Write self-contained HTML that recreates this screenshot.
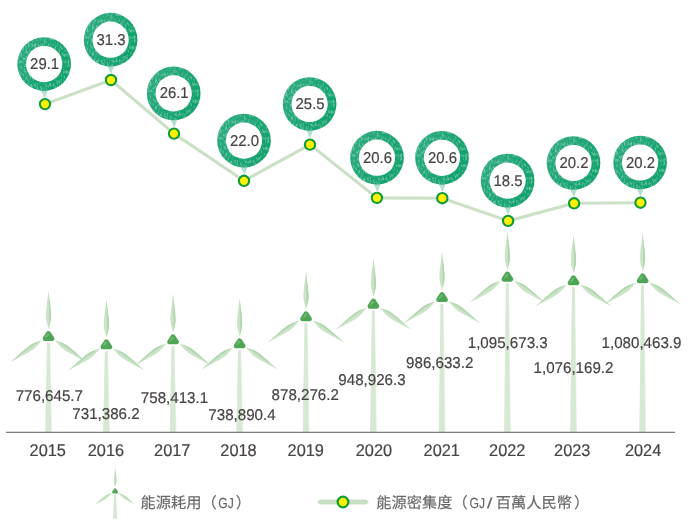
<!DOCTYPE html>
<html lang="zh-Hant">
<head>
<meta charset="utf-8">
<title>能源耗用與能源密集度</title>
<style>
html,body{margin:0;padding:0;background:#fff;}
body{width:690px;height:526px;overflow:hidden;font-family:"Liberation Sans","Noto Sans CJK TC",sans-serif;}
svg{display:block;}
svg text{font-family:"Liberation Sans","Noto Sans CJK TC",sans-serif;text-rendering:geometricPrecision;}
</style>
</head>
<body>
<svg width="690" height="526" viewBox="0 0 690 526">
<defs>
<g id="blade">
<path d="M0,0 C-0.6,-3.6 -2.6,-8.5 -2.6,-13 C-2.6,-20 -0.6,-32 0,-38.8 C0.6,-32 2.6,-20 2.6,-13 C2.6,-8.5 0.6,-3.6 0,0 Z" fill="#cbe4c8"/>
<path d="M0.4,-1 C0.9,-3.6 2.6,-8.5 2.6,-13 C2.6,-20 0.6,-32 0,-38.8 C0.3,-28 0.9,-13 0.4,-1 Z" fill="#b1d7ae"/>
</g>
<g id="rotor">
<use href="#blade" transform="translate(0,-0.9)"/>
<use href="#blade" transform="translate(-6.2,9.6) rotate(-125)"/>
<use href="#blade" transform="translate(6.2,9.6) rotate(125) scale(-1,1)"/>
<path d="M0,3.2 L3.3,8.2 L-3.3,8.2 Z" fill="#4ea556" stroke="#4ea556" stroke-width="5" stroke-linejoin="round"/>
<path d="M-0.6,2.6 C1.5,3.4 1.6,5.4 -3.4,8 C-3.4,6.4 -1.8,3.4 -0.6,2.6 Z" fill="#6db870"/>
</g>
<linearGradient id="rg" x1="0" y1="0.2" x2="1" y2="0.8">
<stop offset="0" stop-color="#2cab7e"/><stop offset="0.5" stop-color="#1ba573"/><stop offset="1" stop-color="#0ea06a"/>
</linearGradient>
<filter id="tex" x="0" y="0" width="1" height="1" color-interpolation-filters="sRGB">
<feTurbulence type="fractalNoise" baseFrequency="0.55 0.3" numOctaves="2" seed="7" result="n"/>
<feColorMatrix in="n" type="matrix" values="0 0 0 0 1  0 0 0 0 1  0 0 0 0 1  0 0 0 1.1 -0.5" result="w"/>
<feComposite in="w" in2="SourceGraphic" operator="in" result="wc"/>
<feMerge><feMergeNode in="SourceGraphic"/><feMergeNode in="wc"/></feMerge>
</filter>
<g id="badge">
<path d="M-3.7,25.5 L3.9,25.5 L0.5,34.2 Z" fill="#b2dfce"/>
<circle cx="0" cy="0" r="26.85" fill="url(#rg)" filter="url(#tex)"/>
<circle cx="0" cy="0" r="18.1" fill="#fff"/>
</g>
<g id="dot"><circle r="5.15" fill="#fff100" stroke="#0f9a3c" stroke-width="2.1"/></g>
</defs>
<rect width="690" height="526" fill="#fff"/>

<g id="towers">
<path d="M47.05,342.9 L50.05,342.9 L52.00,432 L45.30,432 Z" fill="#e8f2e6"/>
<path d="M47.05,342.9 L49.65,342.9 L51.30,432 L45.30,432 Z" fill="#d7e9d4"/>
<path d="M104.95,351.1 L107.95,351.1 L109.90,432 L103.20,432 Z" fill="#e8f2e6"/>
<path d="M104.95,351.1 L107.55,351.1 L109.20,432 L103.20,432 Z" fill="#d7e9d4"/>
<path d="M171.55,346.1 L174.55,346.1 L176.50,432 L169.80,432 Z" fill="#e8f2e6"/>
<path d="M171.55,346.1 L174.15,346.1 L175.80,432 L169.80,432 Z" fill="#d7e9d4"/>
<path d="M238.15,350.1 L241.15,350.1 L243.10,432 L236.40,432 Z" fill="#e8f2e6"/>
<path d="M238.15,350.1 L240.75,350.1 L242.40,432 L236.40,432 Z" fill="#d7e9d4"/>
<path d="M304.55,323.1 L307.55,323.1 L309.50,432 L302.80,432 Z" fill="#e8f2e6"/>
<path d="M304.55,323.1 L307.15,323.1 L308.80,432 L302.80,432 Z" fill="#d7e9d4"/>
<path d="M371.95,310.5 L374.95,310.5 L376.90,432 L370.20,432 Z" fill="#e8f2e6"/>
<path d="M371.95,310.5 L374.55,310.5 L376.20,432 L370.20,432 Z" fill="#d7e9d4"/>
<path d="M440.55,303.9 L443.55,303.9 L445.50,432 L438.80,432 Z" fill="#e8f2e6"/>
<path d="M440.55,303.9 L443.15,303.9 L444.80,432 L438.80,432 Z" fill="#d7e9d4"/>
<path d="M505.95,283.5 L508.95,283.5 L510.90,432 L504.20,432 Z" fill="#e8f2e6"/>
<path d="M505.95,283.5 L508.55,283.5 L510.20,432 L504.20,432 Z" fill="#d7e9d4"/>
<path d="M572.05,287.1 L575.05,287.1 L577.00,432 L570.30,432 Z" fill="#e8f2e6"/>
<path d="M572.05,287.1 L574.65,287.1 L576.30,432 L570.30,432 Z" fill="#d7e9d4"/>
<path d="M641.15,285.1 L644.15,285.1 L646.10,432 L639.40,432 Z" fill="#e8f2e6"/>
<path d="M641.15,285.1 L643.75,285.1 L645.40,432 L639.40,432 Z" fill="#d7e9d4"/>
</g>
<g id="rotors">
<use href="#rotor" transform="translate(48.5,330.4)"/>
<use href="#rotor" transform="translate(106.4,338.6)"/>
<use href="#rotor" transform="translate(173.0,333.6)"/>
<use href="#rotor" transform="translate(239.6,337.6)"/>
<use href="#rotor" transform="translate(306.0,310.6)"/>
<use href="#rotor" transform="translate(373.4,298.0)"/>
<use href="#rotor" transform="translate(442.0,291.4)"/>
<use href="#rotor" transform="translate(507.4,271.0)"/>
<use href="#rotor" transform="translate(573.5,274.6)"/>
<use href="#rotor" transform="translate(642.6,272.6)"/>
</g>
<rect x="6" y="431.75" width="669" height="1.2" fill="#767676"/>
<polyline points="45.0,104.1 111.0,80.0 174.0,133.6 244.0,180.8 310.0,144.6 376.9,197.9 442.3,198.2 508.1,220.9 574.1,203.3 640.5,202.7" fill="none" stroke="#cbe0c6" stroke-width="3.1" stroke-linejoin="round"/>
<use href="#badge" transform="translate(44.15,64.05)"/>
<use href="#badge" transform="translate(110.60,39.70)"/>
<use href="#badge" transform="translate(173.70,93.40)"/>
<use href="#badge" transform="translate(244.00,140.60)"/>
<use href="#badge" transform="translate(309.60,104.00)"/>
<use href="#badge" transform="translate(377.00,157.70)"/>
<use href="#badge" transform="translate(442.00,157.80)"/>
<use href="#badge" transform="translate(507.60,180.60)"/>
<use href="#badge" transform="translate(573.50,163.00)"/>
<use href="#badge" transform="translate(640.10,162.50)"/>
<use href="#dot" transform="translate(45.0,104.1)"/>
<use href="#dot" transform="translate(111.0,80.0)"/>
<use href="#dot" transform="translate(174.0,133.6)"/>
<use href="#dot" transform="translate(244.0,180.8)"/>
<use href="#dot" transform="translate(310.0,144.6)"/>
<use href="#dot" transform="translate(376.9,197.9)"/>
<use href="#dot" transform="translate(442.3,198.2)"/>
<use href="#dot" transform="translate(508.1,220.9)"/>
<use href="#dot" transform="translate(574.1,203.3)"/>
<use href="#dot" transform="translate(640.5,202.7)"/>
<text transform="translate(44.60,69.05) scale(0.955,1)" font-size="15.6" fill="#474443" stroke="#474443" stroke-width="0.2" text-anchor="middle">29.1</text>
<text transform="translate(111.05,44.70) scale(0.955,1)" font-size="15.6" fill="#474443" stroke="#474443" stroke-width="0.2" text-anchor="middle">31.3</text>
<text transform="translate(174.15,98.40) scale(0.955,1)" font-size="15.6" fill="#474443" stroke="#474443" stroke-width="0.2" text-anchor="middle">26.1</text>
<text transform="translate(244.45,145.60) scale(0.955,1)" font-size="15.6" fill="#474443" stroke="#474443" stroke-width="0.2" text-anchor="middle">22.0</text>
<text transform="translate(310.05,109.00) scale(0.955,1)" font-size="15.6" fill="#474443" stroke="#474443" stroke-width="0.2" text-anchor="middle">25.5</text>
<text transform="translate(377.45,162.70) scale(0.955,1)" font-size="15.6" fill="#474443" stroke="#474443" stroke-width="0.2" text-anchor="middle">20.6</text>
<text transform="translate(442.45,162.80) scale(0.955,1)" font-size="15.6" fill="#474443" stroke="#474443" stroke-width="0.2" text-anchor="middle">20.6</text>
<text transform="translate(508.05,185.60) scale(0.955,1)" font-size="15.6" fill="#474443" stroke="#474443" stroke-width="0.2" text-anchor="middle">18.5</text>
<text transform="translate(573.95,168.00) scale(0.955,1)" font-size="15.6" fill="#474443" stroke="#474443" stroke-width="0.2" text-anchor="middle">20.2</text>
<text transform="translate(640.55,167.50) scale(0.955,1)" font-size="15.6" fill="#474443" stroke="#474443" stroke-width="0.2" text-anchor="middle">20.2</text>
<text transform="translate(49.30,400.50) scale(0.97,1)" font-size="15.6" fill="#474443" stroke="#474443" stroke-width="0.2" text-anchor="middle">776,645.7</text>
<text transform="translate(106.00,419.30) scale(0.97,1)" font-size="15.6" fill="#474443" stroke="#474443" stroke-width="0.2" text-anchor="middle">731,386.2</text>
<text transform="translate(174.50,403.30) scale(0.97,1)" font-size="15.6" fill="#474443" stroke="#474443" stroke-width="0.2" text-anchor="middle">758,413.1</text>
<text transform="translate(242.00,419.90) scale(0.97,1)" font-size="15.6" fill="#474443" stroke="#474443" stroke-width="0.2" text-anchor="middle">738,890.4</text>
<text transform="translate(305.20,400.40) scale(0.97,1)" font-size="15.6" fill="#474443" stroke="#474443" stroke-width="0.2" text-anchor="middle">878,276.2</text>
<text transform="translate(372.00,384.70) scale(0.97,1)" font-size="15.6" fill="#474443" stroke="#474443" stroke-width="0.2" text-anchor="middle">948,926.3</text>
<text transform="translate(439.70,367.90) scale(0.97,1)" font-size="15.6" fill="#474443" stroke="#474443" stroke-width="0.2" text-anchor="middle">986,633.2</text>
<text transform="translate(507.70,347.60) scale(0.97,1)" font-size="15.6" fill="#474443" stroke="#474443" stroke-width="0.2" text-anchor="middle">1,095,673.3</text>
<text transform="translate(573.50,372.90) scale(0.97,1)" font-size="15.6" fill="#474443" stroke="#474443" stroke-width="0.2" text-anchor="middle">1,076,169.2</text>
<text transform="translate(641.50,347.90) scale(0.97,1)" font-size="15.6" fill="#474443" stroke="#474443" stroke-width="0.2" text-anchor="middle">1,080,463.9</text>
<text transform="translate(47.70,455.8) scale(0.96,1)" font-size="17" fill="#474443" stroke="#474443" stroke-width="0.2" text-anchor="middle">2015</text>
<text transform="translate(105.90,455.8) scale(0.96,1)" font-size="17" fill="#474443" stroke="#474443" stroke-width="0.2" text-anchor="middle">2016</text>
<text transform="translate(172.20,455.8) scale(0.96,1)" font-size="17" fill="#474443" stroke="#474443" stroke-width="0.2" text-anchor="middle">2017</text>
<text transform="translate(238.50,455.8) scale(0.96,1)" font-size="17" fill="#474443" stroke="#474443" stroke-width="0.2" text-anchor="middle">2018</text>
<text transform="translate(305.70,455.8) scale(0.96,1)" font-size="17" fill="#474443" stroke="#474443" stroke-width="0.2" text-anchor="middle">2019</text>
<text transform="translate(373.90,455.8) scale(0.96,1)" font-size="17" fill="#474443" stroke="#474443" stroke-width="0.2" text-anchor="middle">2020</text>
<text transform="translate(441.70,455.8) scale(0.96,1)" font-size="17" fill="#474443" stroke="#474443" stroke-width="0.2" text-anchor="middle">2021</text>
<text transform="translate(507.20,455.8) scale(0.96,1)" font-size="17" fill="#474443" stroke="#474443" stroke-width="0.2" text-anchor="middle">2022</text>
<text transform="translate(572.20,455.8) scale(0.96,1)" font-size="17" fill="#474443" stroke="#474443" stroke-width="0.2" text-anchor="middle">2023</text>
<text transform="translate(643.10,455.8) scale(0.96,1)" font-size="17" fill="#474443" stroke="#474443" stroke-width="0.2" text-anchor="middle">2024</text>
<g id="legend">
<path d="M114.19999999999999,494.29999999999995 L116.0,494.29999999999995 L117.1,518.7 L113.1,518.7 Z" fill="#d5e8d2"/>
<use href="#rotor" transform="translate(115.1,487.9) scale(0.52)"/>
<text x="140.4" y="508.2" font-size="15.25" fill="#666" stroke="#666" stroke-width="0.15">能源耗用（<tspan font-size="14.6" dx="1.6" textLength="15.6" lengthAdjust="spacingAndGlyphs">GJ</tspan><tspan dx="1.9">）</tspan></text>
<path d="M317,502 L320,499.6 L366,499.6 L369,502 L366,504.4 L320,504.4 Z" fill="#c9dfc3"/>
<use href="#dot" transform="translate(343,502) scale(1.04)"/>
<text x="376.3" y="508.2" font-size="15.25" fill="#666" stroke="#666" stroke-width="0.15">能源密集度（<tspan font-size="14.6" dx="1.6" textLength="15.6" lengthAdjust="spacingAndGlyphs">GJ</tspan><tspan font-size="14.6" dx="2.0" textLength="5.4" lengthAdjust="spacingAndGlyphs">/</tspan><tspan dx="3.4">百萬人民幣</tspan><tspan dx="2">）</tspan></text>
</g>
</svg>
</body>
</html>
